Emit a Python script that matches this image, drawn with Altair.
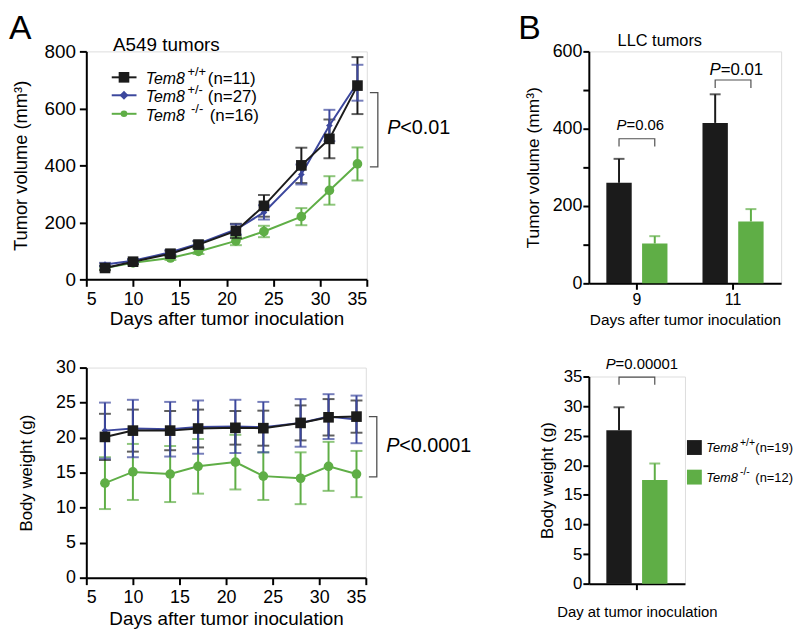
import altair as alt
import pandas as pd

FONT = "Liberation Sans"
BLACK = "#1b1b1b"
BLUE = "#3c479d"
GREEN = "#5fae46"
GRAY = "#505050"

# ---------------- data ----------------
genotypes = ["+/+", "+/-", "-/-"]
days = [7, 10, 14, 17, 21, 24, 28, 31, 34]

vol_wt = [40, 62, 90, 122, 170, 258, 400, 493, 680]
vol_wt_err = [8, 8, 10, 12, 25, 38, 62, 68, 100]
vol_het = [52, 65, 95, 125, 175, 235, 368, 540, 690]
vol_het_err = [6, 6, 8, 10, 18, 25, 35, 55, 63]
vol_ko = [40, 58, 75, 98, 135, 168, 220, 312, 405]
vol_ko_err = [5, 6, 7, 9, 15, 20, 30, 50, 58]

bw_wt = [20.1, 21.0, 21.0, 21.3, 21.4, 21.35, 22.1, 22.9, 23.0]
bw_wt_err = [3.3, 3.0, 2.8, 2.7, 2.4, 2.5, 2.5, 2.6, 2.3]
bw_het = [21.0, 21.3, 21.2, 21.5, 21.6, 21.5, 22.1, 23.0, 22.6]
bw_het_err = [4.0, 4.1, 3.9, 3.8, 3.8, 3.6, 3.4, 3.2, 3.4]
bw_ko = [13.5, 15.1, 14.8, 15.9, 16.5, 14.5, 14.2, 15.9, 14.8]
bw_ko_err = [3.7, 4.0, 4.0, 3.9, 3.9, 3.4, 3.7, 3.5, 3.3]

llc_days = ["9", "11"]
llc_geno = ["+/+", "-/-"]
llc_wt = [260, 415]
llc_wt_err = [62, 74]
llc_ko = [103, 160]
llc_ko_err = [19, 32]

bwB_geno = ["+/+", "-/-"]
bwB_mean = [25.9, 17.5]
bwB_err = [3.9, 2.8]

# legend / annotation values (data units)
legA_n = ["(n=11)", "(n=27)", "(n=16)"]
legA_y = [709, 646, 581]
legA_sup_x = [15.81, 15.81, 16.2]
legA_n_x = [18.0, 18.0, 18.2]
legB_n = ["(n=19)", "(n=12)"]
legB_y = [23.0, 18.0]

# ---------------- helpers ----------------
def ax(**kw):
    base = dict(domainColor="black", domainWidth=2, tickColor="black", tickWidth=2,
                tickSize=7, labelColor="black", titleColor="black", labelFont=FONT,
                titleFont=FONT, titleFontWeight="normal", grid=False, labelPadding=4)
    base.update(kw)
    return alt.Axis(**base)


def long_df(means, errs):
    rows = []
    for g, m, e in zip(genotypes, means, errs):
        for d, mv, ev in zip(days, m, e):
            rows.append(dict(g=g, day=d, mean=mv, lo=mv - ev, hi=mv + ev))
    return pd.DataFrame(rows)


def caps_df(df):
    a = df[["g", "day", "lo"]].rename(columns={"lo": "v"})
    b = df[["g", "day", "hi"]].rename(columns={"hi": "v"})
    return pd.concat([a, b], ignore_index=True)


COLORS = {"+/+": BLACK, "+/-": BLUE, "-/-": GREEN}
SHAPES = {"+/+": "square", "+/-": "diamond", "-/-": "circle"}
SIZES = {"+/+": 115, "+/-": 45, "-/-": 95}


def series(df, g, xs, xa, ys, ya, capw):
    d = df[df.g == g]
    c = caps_df(d)
    col = COLORS[g]
    X = alt.X("day:Q", scale=xs, axis=xa)
    err = alt.Chart(d).mark_rule(color=col, strokeWidth=2).encode(
        x=X, y=alt.Y("lo:Q", scale=ys, axis=ya), y2="hi:Q")
    cap = alt.Chart(c).mark_tick(color=col, orient="horizontal", size=capw, thickness=2).encode(
        x=X, y=alt.Y("v:Q", scale=ys, axis=ya))
    line = alt.Chart(d).mark_line(color=col, strokeWidth=2).encode(
        x=X, y=alt.Y("mean:Q", scale=ys, axis=ya))
    pts = alt.Chart(d).mark_point(filled=True, opacity=1, color=col, shape=SHAPES[g],
                                  size=SIZES[g]).encode(x=X, y=alt.Y("mean:Q", scale=ys, axis=ya))
    return err, cap, line, pts


def a_panel(df, xs, xa, ys, ya, capw):
    ko = series(df, "-/-", xs, xa, ys, ya, capw)
    het = series(df, "+/-", xs, xa, ys, ya, capw)
    wt = series(df, "+/+", xs, xa, ys, ya, capw)
    return [ko[0], ko[1], ko[2], ko[3], wt[0], wt[1], het[0], het[1], het[2], wt[2], het[3], wt[3]]


color_scale = alt.Scale(domain=genotypes, range=[BLACK, BLUE, GREEN])
shape_scale = alt.Scale(domain=genotypes, range=["square", "diamond", "circle"])
size_scale = alt.Scale(domain=genotypes, range=[115, 45, 95])

# ---------------- Panel A top ----------------
xsA = alt.Scale(domain=[5, 35], nice=False, zero=False)
xaA = ax(values=[5, 10, 15, 20, 25, 30, 35], title="Days after tumor inoculation",
         labelFontSize=18, titleFontSize=19, titlePadding=2)
ysA = alt.Scale(domain=[0, 800], nice=False)
yaA = ax(values=[0, 200, 400, 600, 800], title="Tumor volume (mm³)", labelFontSize=19,
         titleFontSize=18.5, titlePadding=14)

volA = long_df([vol_wt, vol_het, vol_ko], [vol_wt_err, vol_het_err, vol_ko_err])
layersA = a_panel(volA, xsA, xaA, ysA, yaA, 12)

XA = lambda f: alt.X(f"{f}:Q", scale=xsA, axis=xaA)
YA = lambda f: alt.Y(f"{f}:Q", scale=ysA, axis=yaA)

legA = pd.DataFrame(dict(g=genotypes, y=legA_y, x1=[7.72] * 3, x2=[10.37] * 3, xm=[9.03] * 3,
                         xt=[11.36] * 3, xs=legA_sup_x, xn=legA_n_x, sup=genotypes, n=legA_n))
legA_rule = alt.Chart(legA).mark_rule(strokeWidth=2).encode(
    x=XA("x1"), x2="x2", y=YA("y"), color=alt.Color("g:N", scale=color_scale, legend=None))
legA_pts = alt.Chart(legA).mark_point(filled=True, opacity=1).encode(
    x=XA("xm"), y=YA("y"), color=alt.Color("g:N", scale=color_scale, legend=None),
    shape=alt.Shape("g:N", scale=shape_scale, legend=None),
    size=alt.Size("g:N", scale=size_scale, legend=None))
legA_tem = alt.Chart(legA).mark_text(text="Tem8", font=FONT, fontStyle="italic", fontSize=16,
                                     align="left", baseline="middle", dy=2, color="black").encode(
    x=XA("xt"), y=YA("y"))
legA_sup = alt.Chart(legA).mark_text(font=FONT, fontSize=13, align="left", baseline="middle",
                                     dy=-5, color="black").encode(x=XA("xs"), y=YA("y"), text="sup:N")
legA_nt = alt.Chart(legA).mark_text(font=FONT, fontSize=17, align="left", baseline="middle",
                                    dy=2, color="black").encode(x=XA("xn"), y=YA("y"), text="n:N")

titleA = pd.DataFrame(dict(x=[7.86], y=[800], t=["A549 tumors"]))
titleA_t = alt.Chart(titleA).mark_text(font=FONT, fontSize=19, align="left", baseline="alphabetic",
                                       color="black").encode(x=XA("x"), y=YA("y"), text="t:N")

brA = pd.DataFrame(dict(x=[35.33, 36.18, 36.18, 35.33], y=[655, 655, 395, 395], o=[0, 1, 2, 3]))
brA_l = alt.Chart(brA).mark_line(color=GRAY, strokeWidth=1.3).encode(
    x=XA("x"), y=YA("y"), order="o:Q")
pA = pd.DataFrame(dict(x=[37.2], y=[532]))
pA_p = alt.Chart(pA).mark_text(text="P", font=FONT, fontStyle="italic", fontSize=20, align="left",
                               baseline="middle", color="black").encode(x=XA("x"), y=YA("y"))
pA_r = alt.Chart(pA).mark_text(text="<0.01", font=FONT, fontSize=20, align="left",
                               baseline="middle", dx=13, color="black").encode(x=XA("x"), y=YA("y"))
letterA = alt.Chart(pA).mark_text(text="A", font=FONT, fontSize=34, align="left",
                                  baseline="alphabetic", color="black").encode(
    x=alt.value(-78), y=alt.value(-13))

A_top = alt.layer(*layersA, legA_rule, legA_pts, legA_tem, legA_sup, legA_nt, titleA_t,
                  brA_l, pA_p, pA_r, letterA).properties(width=283, height=230)

# ---------------- Panel A bottom ----------------
xaA2 = ax(values=[5, 10, 15, 20, 25, 30, 35], title="Days after tumor inoculation",
          labelFontSize=18, titleFontSize=19, titlePadding=3)
ysA2 = alt.Scale(domain=[0, 30], nice=False)
yaA2 = ax(values=[0, 5, 10, 15, 20, 25, 30], title="Body weight (g)", labelFontSize=18,
          titleFontSize=17, titlePadding=20)
bwA = long_df([bw_wt, bw_het, bw_ko], [bw_wt_err, bw_het_err, bw_ko_err])
layersA2 = a_panel(bwA, xsA, xaA2, ysA2, yaA2, 12)
XA2 = lambda f: alt.X(f"{f}:Q", scale=xsA, axis=xaA2)
YA2 = lambda f: alt.Y(f"{f}:Q", scale=ysA2, axis=yaA2)
brA2 = pd.DataFrame(dict(x=[35.33, 36.18, 36.18, 35.33], y=[23.0, 23.0, 14.4, 14.4], o=[0, 1, 2, 3]))
brA2_l = alt.Chart(brA2).mark_line(color=GRAY, strokeWidth=1.3).encode(
    x=XA2("x"), y=YA2("y"), order="o:Q")
pA2 = pd.DataFrame(dict(x=[37.2], y=[18.8]))
pA2_p = alt.Chart(pA2).mark_text(text="P", font=FONT, fontStyle="italic", fontSize=20, align="left",
                                 baseline="middle", color="black").encode(x=XA2("x"), y=YA2("y"))
pA2_r = alt.Chart(pA2).mark_text(text="<0.0001", font=FONT, fontSize=20, align="left",
                                 baseline="middle", dx=13, color="black").encode(x=XA2("x"), y=YA2("y"))
A_bot = alt.layer(*layersA2, brA2_l, pA2_p, pA2_r).properties(width=282, height=212)

# ---------------- Panel B top ----------------
llc_df = pd.DataFrame(dict(day=[llc_days[0], llc_days[0], llc_days[1], llc_days[1]],
                           g=[llc_geno[0], llc_geno[1], llc_geno[0], llc_geno[1]],
                           mean=[llc_wt[0], llc_ko[0], llc_wt[1], llc_ko[1]],
                           hi=[llc_wt[0] + llc_wt_err[0], llc_ko[0] + llc_ko_err[0],
                               llc_wt[1] + llc_wt_err[1], llc_ko[1] + llc_ko_err[1]]))
colB = alt.Scale(domain=llc_geno, range=[BLACK, GREEN])
xaB = ax(labelAngle=0, title="Days after tumor inoculation", labelFontSize=16, titleFontSize=15.5,
         titlePadding=6, tickSize=6, labelPadding=2)
XB = alt.X("day:N", sort=llc_days, scale=alt.Scale(paddingInner=0, paddingOuter=0), axis=xaB)
XOB = alt.XOffset("g:N", sort=llc_geno, scale=alt.Scale(paddingInner=0.29, paddingOuter=0.49))
ysB = alt.Scale(domain=[0, 600], nice=False)
yaB = ax(values=[0, 100, 200, 300, 400, 500, 600], labelExpr="datum.value % 200 == 0 ? datum.label : ''",
         title="Tumor volume (mm³)", labelFontSize=18, titleFontSize=17.5, titlePadding=10,
         tickSize=6, labelPadding=1)
YB = lambda f: alt.Y(f"{f}:Q", scale=ysB, axis=yaB)
CB = alt.Color("g:N", scale=colB, legend=None)

barsB = alt.Chart(llc_df).mark_bar().encode(x=XB, xOffset=XOB, y=YB("mean"), color=CB)
errB = alt.Chart(llc_df).mark_rule(strokeWidth=2).encode(x=XB, xOffset=XOB, y=YB("mean"), y2="hi:Q", color=CB)
capB = alt.Chart(llc_df).mark_tick(orient="horizontal", size=11, thickness=2).encode(
    x=XB, xOffset=XOB, y=YB("hi"), color=CB)

brB = pd.DataFrame(dict(day=["9"] * 4 + ["11"] * 4,
                        g=["+/+", "+/+", "-/-", "-/-"] * 2,
                        y=[354, 374, 374, 354, 505, 526, 526, 505],
                        b=["a"] * 4 + ["b"] * 4, o=[0, 1, 2, 3] * 2))
brB_l = alt.Chart(brB).mark_line(color=GRAY, strokeWidth=1.2).encode(
    x=XB, xOffset=XOB, y=YB("y"), detail="b:N", order="o:Q")
pB = pd.DataFrame(dict(day=llc_days, y=[397, 538], r=["=0.06", "=0.01"], dx=[-10.5, -12.5],
                       fs=[15, 17]))
pB_parts = []
for i in range(2):
    row = pB.iloc[[i]]
    pB_parts.append(alt.Chart(row).mark_text(text="P", font=FONT, fontStyle="italic",
                                             fontSize=float(row.fs.iloc[0]), align="right",
                                             baseline="alphabetic", dx=float(row.dx.iloc[0]),
                                             color="black").encode(x=XB, y=YB("y")))
    pB_parts.append(alt.Chart(row).mark_text(font=FONT, fontSize=float(row.fs.iloc[0]), align="left",
                                             baseline="alphabetic", dx=float(row.dx.iloc[0]),
                                             color="black").encode(x=XB, y=YB("y"), text="r:N"))
titleB = pd.DataFrame(dict(day=["9"], y=[613], t=["LLC tumors"]))
titleB_t = alt.Chart(titleB).mark_text(font=FONT, fontSize=16.5, align="left", baseline="alphabetic",
                                       dx=-19.5, color="black").encode(x=XB, y=YB("y"), text="t:N")
letterB = alt.Chart(titleB).mark_text(text="B", font=FONT, fontSize=34, align="left",
                                      baseline="alphabetic", color="black").encode(
    x=alt.value(-71.3), y=alt.value(-13))

B_top = alt.layer(barsB, errB, capB, brB_l, *pB_parts, titleB_t, letterB).properties(width=194, height=234)

# ---------------- Panel B bottom ----------------
bwB_df = pd.DataFrame(dict(day=["D", "D"], g=bwB_geno, mean=bwB_mean,
                           hi=[m + e for m, e in zip(bwB_mean, bwB_err)]))
xaB2 = ax(labels=False, title="Day at tumor inoculation", titleFontSize=15, titlePadding=14, tickSize=6)
XB2 = alt.X("day:N", scale=alt.Scale(paddingInner=0, paddingOuter=0), axis=xaB2)
XOB2 = alt.XOffset("g:N", sort=bwB_geno, scale=alt.Scale(paddingInner=0.457, paddingOuter=0.26))
ysB2 = alt.Scale(domain=[0, 35], nice=False)
yaB2 = ax(values=[0, 5, 10, 15, 20, 25, 30, 35], title="Body weight (g)", labelFontSize=17,
          titleFontSize=17, titlePadding=7, tickSize=6, labelPadding=1)
YB2 = lambda f: alt.Y(f"{f}:Q", scale=ysB2, axis=yaB2)
barsB2 = alt.Chart(bwB_df).mark_bar().encode(x=XB2, xOffset=XOB2, y=YB2("mean"), color=CB)
errB2 = alt.Chart(bwB_df).mark_rule(strokeWidth=2).encode(x=XB2, xOffset=XOB2, y=YB2("mean"), y2="hi:Q", color=CB)
capB2 = alt.Chart(bwB_df).mark_tick(orient="horizontal", size=11, thickness=2).encode(
    x=XB2, xOffset=XOB2, y=YB2("hi"), color=CB)
brB2 = pd.DataFrame(dict(day=["D"] * 4, g=["+/+", "+/+", "-/-", "-/-"], y=[33.6, 34.9, 34.9, 33.6],
                         o=[0, 1, 2, 3]))
brB2_l = alt.Chart(brB2).mark_line(color=GRAY, strokeWidth=1.2).encode(
    x=XB2, xOffset=XOB2, y=YB2("y"), order="o:Q")
pB2 = pd.DataFrame(dict(day=["D"], y=[36.3], r=["=0.00001"]))
pB2_p = alt.Chart(pB2).mark_text(text="P", font=FONT, fontStyle="italic", fontSize=15, align="right",
                                 baseline="alphabetic", dx=-21.5, color="black").encode(x=XB2, y=YB2("y"))
pB2_r = alt.Chart(pB2).mark_text(font=FONT, fontSize=15, align="left", baseline="alphabetic",
                                 dx=-21.5, color="black").encode(x=XB2, y=YB2("y"), text="r:N")

legB = pd.DataFrame(dict(g=bwB_geno, y=legB_y, sup=bwB_geno, n=legB_n))
legB_sq = alt.Chart(legB).mark_square(size=225, opacity=1).encode(
    x=alt.value(106.5), y=YB2("y"), color=CB)
legB_tem = alt.Chart(legB).mark_text(text="Tem8", font=FONT, fontStyle="italic", fontSize=13,
                                     align="left", baseline="middle", dy=1, color="black").encode(
    x=alt.value(118.5), y=YB2("y"))
legB_sup = alt.Chart(legB).mark_text(font=FONT, fontSize=10.5, align="left", baseline="middle",
                                     dy=-5, color="black").encode(x=alt.value(152.5), y=YB2("y"), text="sup:N")
legB_nt = alt.Chart(legB).mark_text(font=FONT, fontSize=13, align="left", baseline="middle",
                                    dy=1, color="black").encode(x=alt.value(168), y=YB2("y"), text="n:N")

B_bot = alt.layer(barsB2, errB2, capB2, brB2_l, pB2_p, pB2_r, legB_sq, legB_tem, legB_sup,
                  legB_nt).properties(width=97, height=209)

left = alt.vconcat(A_top, A_bot, spacing=89, bounds="flush")
right = alt.vconcat(B_top, B_bot, spacing=94, bounds="flush")
chart = alt.hconcat(left, right, spacing=507, bounds="flush").properties(
    padding=0, background="white"
).configure_view(stroke=None).configure(font=FONT)

chart.save("out.html", embed_options={"renderer": "svg", "actions": False})
